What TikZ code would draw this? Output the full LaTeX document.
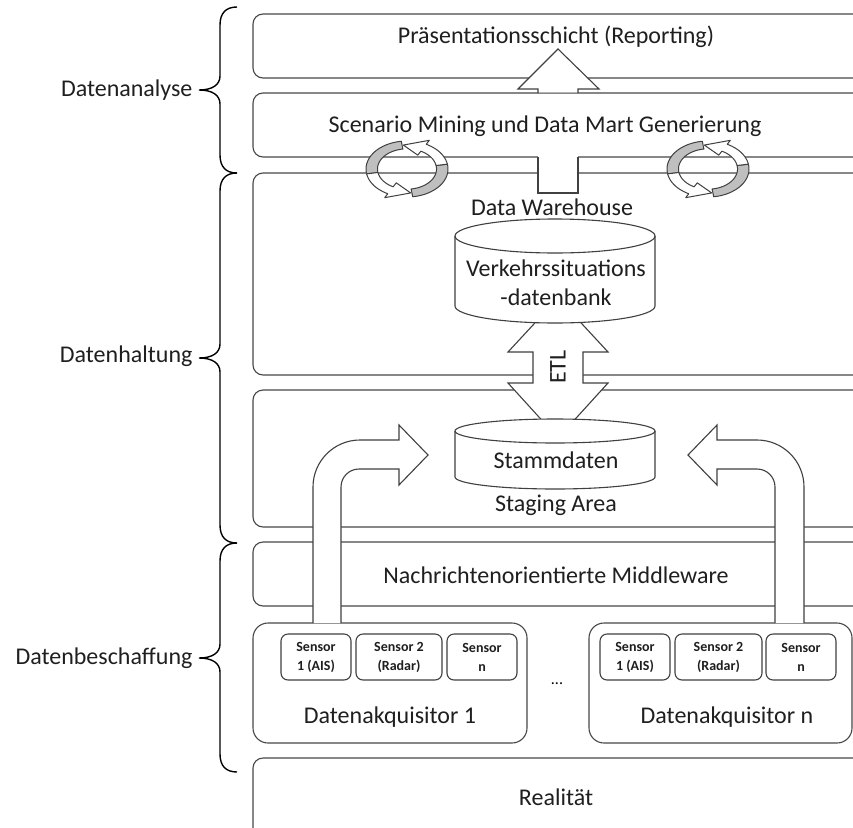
\documentclass[tikz,border=0pt]{standalone}
\usepackage{fontspec}
\setmainfont{Carlito}
\newcommand\layerbrace[3]{%
  \draw[bracestyle] (237,#1) .. controls (226,#1) and (220,#1+6) .. (220,#1+18)
    -- (220,#2-14) .. controls (220,#2-5) and (212,#2) .. (199,#2)
    .. controls (212,#2) and (220,#2+5) .. (220,#2+14)
    -- (220,#3-18) .. controls (220,#3-6) and (226,#3) .. (237,#3);}
% two chasing arrows on a tilted ring
\newcommand\cyclearrows[2]{%
  \begin{scope}[shift={(#1,#2)}]
    \filldraw[ringline, fill=black!25]
      plot[domain=98:190, samples=24, variable=\t] ({41*cos(\t)},{-28*sin(\t)})
      -- plot[domain=190:98, samples=24, variable=\t] ({0.72*41*cos(\t)},{-0.72*28*sin(\t)}) -- cycle;
    \filldraw[ringline, fill=black!25]
      plot[domain=278:370, samples=24, variable=\t] ({41*cos(\t)},{-28*sin(\t)})
      -- plot[domain=370:278, samples=24, variable=\t] ({0.72*41*cos(\t)},{-0.72*28*sin(\t)}) -- cycle;
    \filldraw[ringline, fill=white]
      plot[domain=10:62, samples=20, variable=\t] ({41*cos(\t)},{-28*sin(\t)})
      -- ({1.16*41*cos(62)},{-1.16*28*sin(62)})
      -- ({0.86*41*cos(96)},{-0.86*28*sin(96)})
      -- ({0.56*41*cos(62)},{-0.56*28*sin(62)})
      -- plot[domain=62:10, samples=20, variable=\t] ({0.72*41*cos(\t)},{-0.72*28*sin(\t)}) -- cycle;
    \filldraw[ringline, fill=white]
      plot[domain=190:242, samples=20, variable=\t] ({41*cos(\t)},{-28*sin(\t)})
      -- ({1.16*41*cos(242)},{-1.16*28*sin(242)})
      -- ({0.86*41*cos(276)},{-0.86*28*sin(276)})
      -- ({0.56*41*cos(242)},{-0.56*28*sin(242)})
      -- plot[domain=242:190, samples=20, variable=\t] ({0.72*41*cos(\t)},{-0.72*28*sin(\t)}) -- cycle;
  \end{scope}}
\begin{document}
\begin{tikzpicture}[x=1pt,y=-1pt,
  line width=1.1pt,
  layer/.style={draw=black!72, fill=white, rounded corners=10pt},
  akq/.style={draw=black!72, fill=white, rounded corners=15pt},
  shapeline/.style={draw=black!75, line join=miter},
  ringline/.style={draw=black!75, line width=1pt, line join=round},
  bracestyle/.style={draw=black, line width=1.4pt},
  lbl/.style={font=\fontsize{24}{29}\selectfont, text=black!88, inner sep=0pt, align=center},
  sidelbl/.style={lbl, anchor=east},
  sensorbox/.style={draw=black!75, fill=white, rounded corners=7pt, inner sep=0pt,
    minimum height=46pt, align=center, text=black!88,
    font=\bfseries\fontsize{14}{19}\selectfont}
]
\useasboundingbox (0,0) rectangle (853,827);
\clip (0,0) rectangle (853,827);

% ---- layers ----
\draw[layer] (253,14) rectangle (880,78);
\draw[layer] (253,93) rectangle (880,157);
\draw[layer] (253,173) rectangle (880,375);
\draw[layer] (253,390) rectangle (880,527);
\draw[layer] (253,542) rectangle (880,606);
\draw[akq] (253,623) rectangle (527,743);
\draw[akq] (589,623) rectangle (852,743);
\draw[layer] (253,758) rectangle (880,870);

% ---- side braces ----
\layerbrace{7}{90}{173}
\layerbrace{173}{358}{543}
\layerbrace{543}{658}{772}
\node[sidelbl] (danalyse) at (193,90) {Datenanalyse};
\node[sidelbl] (dhaltung) at (193,356) {Datenhaltung};
\node[sidelbl] (dbeschaff) at (193,658) {Datenbeschaffung};

% ---- block arrow towards reporting ----
\fill[white] (538,92.4) -- (538,89) -- (518,89) -- (558,49) -- (599,89) -- (578,89) -- (578,92.4) -- cycle;
\draw[shapeline] (538,93) -- (538,89) -- (518,89) -- (558,49) -- (599,89) -- (578,89) -- (578,93);
\fill[white] (538,156.3) rectangle (578,193);
\draw[shapeline] (538,157) -- (538,193) -- (578,193) -- (578,157);

% ---- ETL double arrow ----
\filldraw[shapeline, fill=white] (558,298) -- (608,352) -- (583,352) -- (583,383) -- (608,383)
  -- (558,438) -- (508,383) -- (533,383) -- (533,352) -- (508,352) -- cycle;
\node[lbl, rotate=90] (etl) at (558,367) {ETL};

% ---- databases ----
\filldraw[draw=black!75, fill=white] (455,236) -- (455,306) arc[start angle=180, end angle=360, x radius=100pt, y radius=17pt]
  -- (655,236) arc[start angle=0, end angle=180, x radius=100pt, y radius=17pt] -- cycle;
\draw[black!75] (455,236) arc[start angle=180, end angle=360, x radius=100pt, y radius=17pt];
\filldraw[draw=black!75, fill=white] (455,431) -- (455,477) arc[start angle=180, end angle=360, x radius=100pt, y radius=12pt]
  -- (655,431) arc[start angle=0, end angle=180, x radius=100pt, y radius=12pt] -- cycle;
\draw[black!75] (455,431) arc[start angle=180, end angle=360, x radius=100pt, y radius=12pt];

% ---- bent arrows from the acquisitors ----
\filldraw[shapeline, fill=white] (313,623) -- (313,487) arc[start angle=180, end angle=90, radius=47pt]
  -- (399,440) -- (399,425) -- (428,455) -- (399,485) -- (399,469) -- (359,469)
  arc[start angle=90, end angle=180, radius=18pt] -- (341,623);
\filldraw[shapeline, fill=white] (804,623) -- (804,487) arc[start angle=0, end angle=90, radius=47pt]
  -- (717,440) -- (717,425) -- (688,455) -- (717,485) -- (717,469) -- (757,469)
  arc[start angle=90, end angle=0, radius=18pt] -- (775,623);

% ---- rotating arrows ----
\cyclearrows{407}{169}
\cyclearrows{708}{169}

% ---- texts ----
\node[lbl] (praes) at (556,37) {Präsentationsschicht (Reporting)};
\node[lbl] (mining) at (545,126) {Scenario Mining und Data Mart Generierung};
\node[lbl] (dwh) at (552,207) {Data Warehouse};
\node[lbl] (vdb) at (556,283) {Verkehrssituations\\-datenbank};
\node[lbl] (stamm) at (556,460) {Stammdaten};
\node[lbl] (staging) at (556,505) {Staging Area};
\node[lbl] (mom) at (556,575) {Nachrichtenorientierte Middleware};
\node[lbl] (real) at (556,797) {Realität};
\node[lbl] (akq1) at (390,717) {Datenakquisitor 1};
\node[lbl] (akqn) at (727,717) {Datenakquisitor n};
\node[font=\fontsize{16}{19}\selectfont, inner sep=0pt] (dots) at (557,684) {...};

% ---- sensors ----
\node[sensorbox, minimum width=70pt] (a1s1) at (316,657) {Sensor\\1 (AIS)};
\node[sensorbox, minimum width=86pt] (a1s2) at (399,657) {Sensor 2\\(Radar)};
\node[sensorbox, minimum width=70pt] (a1sn) at (482,657) {Sensor\\n};
\node[sensorbox, minimum width=70pt] (ans1) at (635,657) {Sensor\\1 (AIS)};
\node[sensorbox, minimum width=87pt] (ans2) at (718.5,657) {Sensor 2\\(Radar)};
\node[sensorbox, minimum width=70pt] (ansn) at (801,657) {Sensor\\n};
\end{tikzpicture}
\end{document}
